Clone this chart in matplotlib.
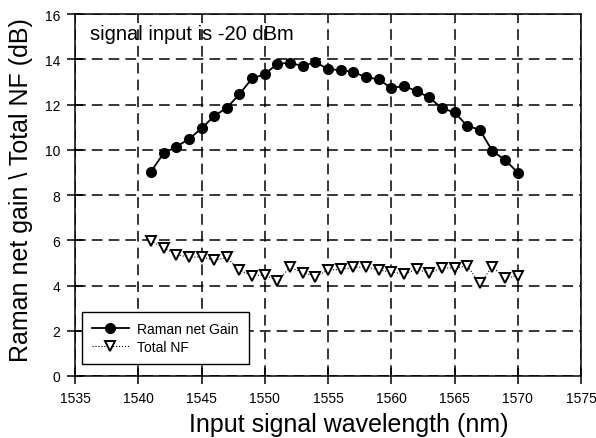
import matplotlib
matplotlib.use('Agg')
import matplotlib.pyplot as plt

plt.rcParams['font.family'] = ['Liberation Sans', 'DejaVu Sans']

wavelength = [1541, 1542, 1543, 1544, 1545, 1546, 1547, 1548, 1549, 1550,
              1551, 1552, 1553, 1554, 1555, 1556, 1557, 1558, 1559, 1560,
              1561, 1562, 1563, 1564, 1565, 1566, 1567, 1568, 1569, 1570]
raman_gain = [9.03, 9.84, 10.13, 10.47, 10.94, 11.49, 11.85, 12.46, 13.15, 13.34,
              13.80, 13.84, 13.70, 13.88, 13.56, 13.52, 13.44, 13.20, 13.12, 12.72,
              12.82, 12.59, 12.31, 11.84, 11.65, 11.06, 10.88, 9.94, 9.55, 8.99]
total_nf = [5.97, 5.67, 5.37, 5.25, 5.26, 5.12, 5.24, 4.68, 4.43, 4.47,
            4.21, 4.80, 4.57, 4.39, 4.68, 4.71, 4.80, 4.83, 4.68, 4.60,
            4.50, 4.72, 4.55, 4.78, 4.77, 4.87, 4.10, 4.83, 4.32, 4.44]

fig = plt.figure(figsize=(5.96, 4.39), dpi=100)
ax = fig.add_axes([75 / 596, 1 - 377 / 439, 506 / 596, 362 / 439])

ax.plot(wavelength, raman_gain, '-', color='black', lw=1.3, marker='o',
        ms=7, mfc='black', mec='black', label='Raman net Gain', zorder=3)
ax.plot(wavelength, total_nf, ':', color='black', lw=0.8, marker='v',
        ms=7.5, mfc='white', mec='black', mew=1.4, label='Total NF', zorder=3)

ax.set_xlim(1535, 1575)
ax.set_ylim(0, 16)
ax.set_xticks(range(1535, 1576, 5))
ax.set_yticks(range(0, 17, 2))
ax.grid(True, color='black', linestyle=(0, (7, 4)), linewidth=1.1)
ax.tick_params(direction='inout', length=11, width=1.1, labelsize=10, pad=5)
for s in ax.spines.values():
    s.set_linewidth(1.1)

ax.set_xlabel('Input signal wavelength (nm)', fontsize=18)
ax.xaxis.set_label_coords((349 - 75) / 506, (377 - 425) / 362)
ax.xaxis.label.set_va('center')
ax.set_ylabel('Raman net gain \\ Total NF (dB)', fontsize=18)
ax.yaxis.set_label_coords((21 - 75) / 506, (377 - 190) / 362)
ax.yaxis.label.set_va('center')

ax.text(0.03, 0.945, 'signal input is -20 dBm', transform=ax.transAxes,
        fontsize=14.5, va='center', ha='left')

leg = ax.legend(loc='lower left', bbox_to_anchor=(0.0138, 0.033),
                borderaxespad=0, fontsize=10,
                frameon=True, fancybox=False, edgecolor='black',
                borderpad=0.75, handlelength=2.6, handletextpad=0.6,
                labelspacing=0.25)
leg.get_frame().set_linewidth(1.0)
leg.get_frame().set_alpha(1)

fig.savefig('out.png', dpi=100)
